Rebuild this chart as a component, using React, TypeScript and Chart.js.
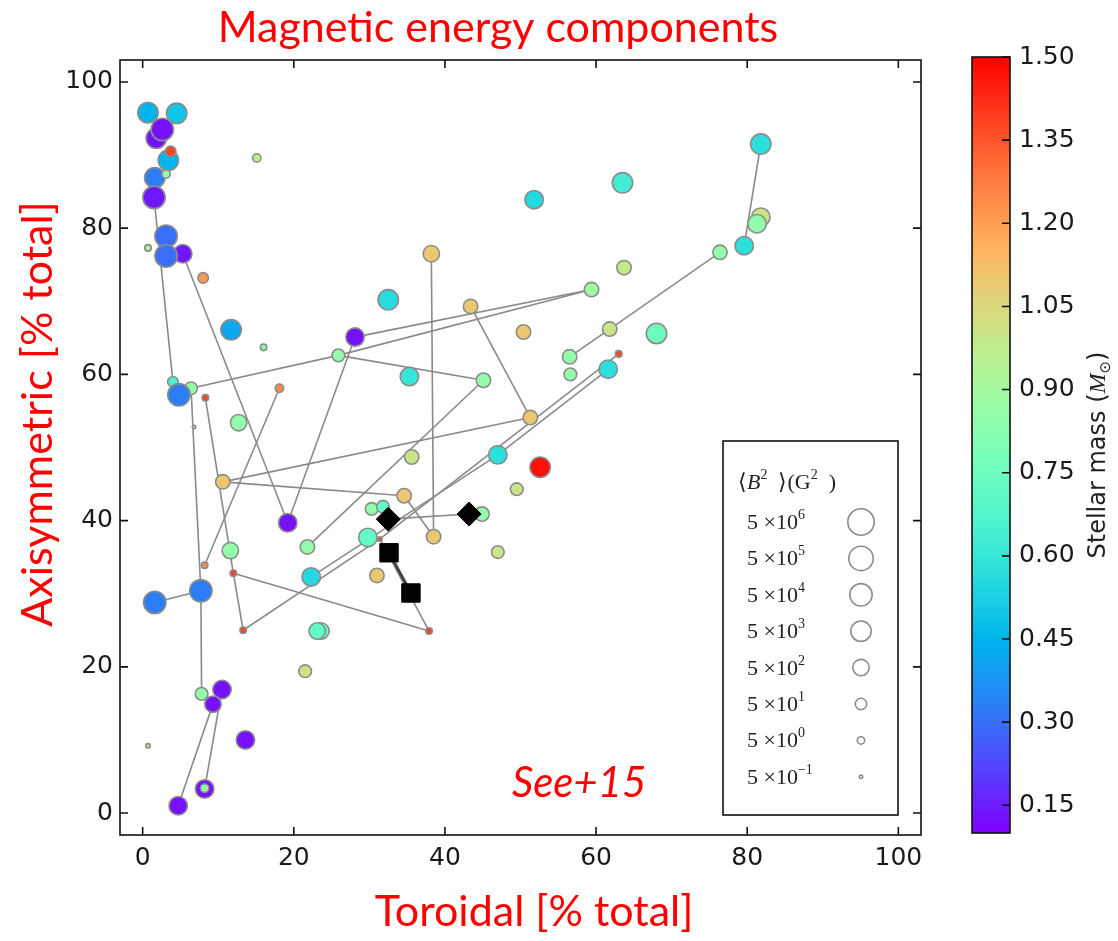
import { useEffect, useRef } from "react";
import { Chart, registerables } from "chart.js";

Chart.register(...registerables);

// Stellar sample: toroidal and axisymmetric shares of magnetic energy (% of total)
const toroidal = [
  0.7, 4.5, 1.8, 2.6, 3.4, 3.7, 1.6, 3.1, 1.5, 15.1, 3.1, 0.7, 5.3, 3.1, 8.0, 32.5,
  11.7, 16.0, 28.1, 25.9, 4.0, 6.4, 4.8, 8.3, 18.1, 12.7, 6.8, 10.6, 19.2, 11.6, 21.8,
  8.2, 12.0, 22.3, 31.0, 1.6, 7.7, 13.3, 23.6, 23.1, 21.5, 7.8, 10.5, 9.3, 13.6, 0.7,
  8.2, 8.2, 4.7, 51.8, 63.5, 38.2, 43.4, 59.4, 63.7, 50.4, 61.8, 56.5, 56.6, 61.6, 63.0,
  35.3, 45.1, 51.3, 47.0, 52.6, 49.5, 35.6, 34.6, 30.3, 31.8, 44.9, 38.5, 31.4, 29.8,
  47.0, 37.9, 81.8, 81.8, 81.3, 79.6, 76.4, 68.0,
];
const axisymmetric = [
  95.8, 95.7, 92.3, 93.5, 89.3, 90.5, 86.9, 87.4, 84.2, 89.6, 78.9, 77.3, 76.5, 76.2, 73.2, 70.2,
  66.1, 63.7, 65.1, 62.6, 59.0, 58.1, 57.2, 56.8, 58.1, 53.4, 52.8, 45.3, 39.7, 35.9, 36.4,
  33.9, 32.8, 32.3, 32.5, 28.8, 30.4, 25.0, 24.9, 24.9, 19.4, 16.3, 16.9, 14.9, 10.0, 9.2,
  3.3, 3.4, 1.0, 83.9, 86.2, 76.5, 69.3, 71.6, 74.6, 65.8, 66.2, 62.4, 60.0, 60.7, 62.8,
  59.7, 59.2, 54.1, 49.0, 47.3, 44.3, 48.7, 43.4, 41.6, 41.9, 40.9, 37.8, 37.5, 37.7,
  35.7, 24.9, 91.5, 81.5, 80.6, 77.6, 76.7, 65.6,
];
// Stellar mass in solar masses
const stellarMass = [
  0.45, 0.5, 0.13, 0.13, 0.45, 1.38, 0.33, 0.85, 0.14, 0.98, 0.3, 0.95, 0.14, 0.3, 1.22, 0.56,
  0.42, 0.82, 0.13, 0.85, 0.65, 0.85, 0.33, 1.38, 1.25, 0.85, 1.0, 1.1, 0.13, 0.85, 0.85,
  1.25, 1.38, 0.55, 1.1, 0.33, 0.33, 1.38, 0.72, 0.72, 1.02, 0.85, 0.13, 0.13, 0.13, 0.95,
  0.13, 0.85, 0.13, 0.55, 0.63, 1.1, 1.1, 0.88, 0.98, 1.1, 1.0, 0.85, 0.85, 0.57, 1.38,
  0.6, 0.85, 1.1, 0.57, 1.47, 1.0, 1.0, 1.1, 0.85, 0.72, 0.85, 1.1, 1.38, 0.72,
  1.0, 1.38, 0.57, 1.0, 0.85, 0.57, 0.85, 0.75,
];
// Mean squared field <B^2> in G^2
const meanB2 = [
  5e3, 5e3, 5e3, 5e4, 5e3, 30, 5e3, 9, 5e4, 9, 5e4, 3, 1600, 5e4, 30, 5e3,
  5e3, 3, 1600, 90, 30, 90, 5e4, 3, 9, 500, 0.3, 200, 1600, 500, 200,
  3, 3, 1600, 200, 5e4, 5e4, 3, 500, 500, 90, 90, 1600, 500, 1600, 0.9,
  1600, 9, 1600, 1600, 5e3, 500, 200, 200, 200, 200, 200, 200, 90, 1600, 3,
  1600, 200, 200, 1600, 5e3, 90, 200, 200, 90, 90, 200, 200, 0.9, 1600,
  90, 3, 5e3, 1600, 1600, 1600, 200, 5e3,
];

// Reference stars shown in black
const diamondToroidal = [32.5, 43.2];
const diamondAxisym = [40.2, 40.9];
const squareToroidal = [32.6, 35.5];
const squareAxisym = [35.6, 30.1];

// Epoch-to-epoch links between maps of the same star: [x1, y1, x2, y2]
const trackSegments = [
  [1.5, 84.2, 4.0, 59.0],
  [5.3, 76.5, 19.2, 39.7],
  [19.2, 39.7, 28.1, 65.1],
  [28.1, 65.1, 59.4, 71.6],
  [25.9, 62.6, 59.4, 71.6],
  [6.4, 58.1, 25.9, 62.6],
  [25.9, 62.6, 45.1, 59.2],
  [45.1, 59.2, 21.8, 36.4],
  [6.4, 58.1, 7.7, 30.4],
  [1.6, 28.8, 7.7, 30.4],
  [7.7, 30.4, 7.8, 16.3],
  [9.3, 14.9, 4.7, 1.0],
  [10.5, 16.9, 8.2, 3.3],
  [8.3, 56.8, 12.0, 32.8],
  [12.0, 32.8, 13.3, 25.0],
  [12.0, 32.8, 37.9, 24.9],
  [37.9, 24.9, 31.4, 37.5],
  [13.3, 25.0, 31.4, 37.5],
  [31.4, 37.5, 63.0, 62.8],
  [22.3, 32.3, 47.0, 49.0],
  [47.0, 49.0, 61.6, 60.7],
  [8.2, 33.9, 18.1, 58.1],
  [10.6, 45.3, 51.3, 54.1],
  [10.6, 45.3, 34.6, 43.4],
  [34.6, 43.4, 38.5, 37.8],
  [38.2, 76.5, 38.5, 37.8],
  [43.4, 69.3, 51.3, 54.1],
  [56.5, 62.4, 61.8, 66.2],
  [61.8, 66.2, 76.4, 76.7],
  [79.6, 77.6, 81.8, 91.5],
  [32.5, 40.2, 43.2, 40.9],
];

const axisTicks = [0, 20, 40, 60, 80, 100];
const massTicks = [0.15, 0.3, 0.45, 0.6, 0.75, 0.9, 1.05, 1.2, 1.35, 1.5];
const massMin = 0.1;
const massMax = 1.5;
const legendExponents = [6, 5, 4, 3, 2, 1, 0, -1];

// Marker outer radius (px) against log10(<B^2> / 5)
const sizeExp = [-1, 0, 1, 2, 3, 4, 5, 6];
const sizeRadius = [2.5, 4.5, 6.5, 9, 11, 12, 13, 14];

const clamp01 = (v: number) => Math.max(0, Math.min(1, v));

// matplotlib "rainbow" colormap
function rainbow(t: number): string {
  const r = clamp01(Math.abs(2 * t - 0.5));
  const g = clamp01(Math.sin(Math.PI * t));
  const b = clamp01(Math.cos((Math.PI * t) / 2));
  return `rgb(${Math.round(r * 255)},${Math.round(g * 255)},${Math.round(b * 255)})`;
}
const massColor = (m: number) => rainbow(clamp01((m - massMin) / (massMax - massMin)));

function markerRadius(b2: number): number {
  const e = Math.log10(b2 / 5);
  if (e <= sizeExp[0]) return sizeRadius[0];
  for (let i = 1; i < sizeExp.length; i++) {
    if (e <= sizeExp[i]) {
      const f = (e - sizeExp[i - 1]) / (sizeExp[i] - sizeExp[i - 1]);
      return sizeRadius[i - 1] + f * (sizeRadius[i] - sizeRadius[i - 1]);
    }
  }
  return sizeRadius[sizeRadius.length - 1];
}

const RED = "#ff0000";
const TITLE_FONT = "Lato";
const TICK_FONT = "'DejaVu Sans'";
const SERIF = "'Liberation Serif'";

type Run = { text: string; font: string; dy?: number };

function runsWidth(ctx: CanvasRenderingContext2D, runs: Run[]) {
  let w = 0;
  for (const r of runs) {
    ctx.font = r.font;
    w += ctx.measureText(r.text).width;
  }
  return w;
}

function drawRuns(ctx: CanvasRenderingContext2D, runs: Run[], x: number, y: number) {
  let cx = x;
  for (const r of runs) {
    ctx.font = r.font;
    ctx.fillText(r.text, cx, y + (r.dy || 0));
    cx += ctx.measureText(r.text).width;
  }
}

const decorations = {
  id: "decorations",
  afterDraw(chart: Chart) {
    const { ctx, chartArea: a } = chart;
    const xs = chart.scales.x;
    const ys = chart.scales.y;
    ctx.save();

    // axes frame with inward ticks on all sides
    ctx.strokeStyle = "#111";
    ctx.lineWidth = 1.6;
    ctx.strokeRect(a.left, a.top, a.right - a.left, a.bottom - a.top);
    ctx.beginPath();
    for (const v of axisTicks) {
      const px = xs.getPixelForValue(v);
      ctx.moveTo(px, a.bottom);
      ctx.lineTo(px, a.bottom - 8);
      ctx.moveTo(px, a.top);
      ctx.lineTo(px, a.top + 8);
      const py = ys.getPixelForValue(v);
      ctx.moveTo(a.left, py);
      ctx.lineTo(a.left + 8, py);
      ctx.moveTo(a.right, py);
      ctx.lineTo(a.right - 8, py);
    }
    ctx.stroke();

    // size legend
    const box = { left: 723, top: 441, right: 898, bottom: 815 };
    ctx.fillStyle = "#fff";
    ctx.fillRect(box.left, box.top, box.right - box.left, box.bottom - box.top);
    ctx.strokeStyle = "#111";
    ctx.lineWidth = 1.6;
    ctx.strokeRect(box.left, box.top, box.right - box.left, box.bottom - box.top);
    ctx.fillStyle = "#222";
    ctx.textBaseline = "alphabetic";
    ctx.textAlign = "left";
    const big = `22px ${SERIF}`;
    const bigIt = `italic 22px ${SERIF}`;
    const sup = `14px ${SERIF}`;
    drawRuns(
      ctx,
      [
        { text: "\u27E8", font: big },
        { text: "B", font: bigIt },
        { text: "2", font: sup, dy: -10 },
        { text: "  \u27E9(G", font: big },
        { text: "2", font: sup, dy: -10 },
        { text: "  )", font: big },
      ],
      738,
      489
    );
    legendExponents.forEach((e, i) => {
      const cy = 522 + i * 36.4;
      drawRuns(
        ctx,
        [
          { text: "5 \u00D710", font: big },
          { text: String(e).replace("-", "\u2212"), font: sup, dy: -10 },
        ],
        747,
        cy + 7
      );
      ctx.beginPath();
      ctx.arc(861, cy, markerRadius(5 * Math.pow(10, e)) - 0.8, 0, Math.PI * 2);
      ctx.strokeStyle = "#8c8c8c";
      ctx.lineWidth = 1.6;
      ctx.stroke();
    });

    // colour bar for stellar mass
    const cb = { left: 972, right: 1010, top: 57, bottom: 833 };
    const grad = ctx.createLinearGradient(0, cb.bottom, 0, cb.top);
    for (let i = 0; i <= 40; i++) grad.addColorStop(i / 40, rainbow(i / 40));
    ctx.fillStyle = grad;
    ctx.fillRect(cb.left, cb.top, cb.right - cb.left, cb.bottom - cb.top);
    ctx.strokeStyle = "#111";
    ctx.lineWidth = 1.6;
    ctx.strokeRect(cb.left, cb.top, cb.right - cb.left, cb.bottom - cb.top);
    ctx.fillStyle = "#1a1a1a";
    ctx.font = `25px ${TICK_FONT}`;
    ctx.textBaseline = "middle";
    ctx.beginPath();
    for (const m of massTicks) {
      const py = cb.bottom - ((m - massMin) / (massMax - massMin)) * (cb.bottom - cb.top);
      ctx.moveTo(cb.right, py);
      ctx.lineTo(cb.right - 8, py);
      ctx.fillText(m.toFixed(2), 1019, py);
    }
    ctx.stroke();

    // colour bar label (rotated)
    ctx.save();
    ctx.translate(1105, 455);
    ctx.rotate(-Math.PI / 2);
    ctx.fillStyle = "#222";
    ctx.textBaseline = "alphabetic";
    const cbRuns: Run[] = [
      { text: "Stellar mass (", font: `24px ${TICK_FONT}` },
      { text: "M", font: `italic 24px ${SERIF}` },
      { text: "\u2299", font: `15px ${TICK_FONT}`, dy: 5 },
      { text: ")", font: `24px ${TICK_FONT}` },
    ];
    drawRuns(ctx, cbRuns, -runsWidth(ctx, cbRuns) / 2, 0);
    ctx.restore();

    // titles
    ctx.fillStyle = RED;
    ctx.textAlign = "center";
    ctx.textBaseline = "alphabetic";
    ctx.font = `43px ${TITLE_FONT}`;
    ctx.fillText("Magnetic energy components", 498, 42);
    ctx.fillText("Toroidal [% total]", 534, 926);
    ctx.save();
    ctx.translate(52, 414);
    ctx.rotate(-Math.PI / 2);
    ctx.fillText("Axisymmetric [% total]", 0, 0);
    ctx.restore();
    ctx.textAlign = "left";
    ctx.font = `italic 42px ${TITLE_FONT}`;
    ctx.fillText("See+15", 512, 797);

    ctx.restore();
  },
};

export default function App() {
  const canvasRef = useRef<HTMLCanvasElement>(null);

  useEffect(() => {
    const canvas = canvasRef.current;
    if (!canvas) return;

    const starPoints = toroidal.map((x, i) => ({ x, y: axisymmetric[i] }));
    const tracks = trackSegments.map(([x1, y1, x2, y2]) => ({
      data: [
        { x: x1, y: y1 },
        { x: x2, y: y2 },
      ],
      showLine: true,
      pointRadius: 0,
      borderColor: "#8a8a8a",
      borderWidth: 1.6,
    }));

    const tickFont = { family: "DejaVu Sans", size: 25 };

    const chart = new Chart(canvas, {
      type: "scatter",
      data: {
        datasets: [
          {
            data: diamondToroidal.map((x, i) => ({ x, y: diamondAxisym[i] })),
            pointStyle: "rectRot",
            pointRadius: 12,
            pointBackgroundColor: "#000",
            pointBorderColor: "#000",
            pointBorderWidth: 1,
          },
          {
            data: squareToroidal.map((x, i) => ({ x, y: squareAxisym[i] })),
            pointStyle: "rect",
            pointRadius: 13,
            pointBackgroundColor: "#000",
            pointBorderColor: "#000",
            pointBorderWidth: 1,
          },
          {
            data: squareToroidal.map((x, i) => ({ x, y: squareAxisym[i] })),
            showLine: true,
            pointRadius: 0,
            borderColor: "#444",
            borderWidth: 3,
          },
          {
            data: starPoints,
            pointRadius: (c: any) => markerRadius(meanB2[c.dataIndex]) - 0.8,
            pointBackgroundColor: (c: any) => massColor(stellarMass[c.dataIndex]),
            pointBorderColor: "#8c8c8c",
            pointBorderWidth: 1.6,
          },
          ...tracks,
        ] as any,
      },
      options: {
        responsive: false,
        devicePixelRatio: 1,
        animation: false,
        events: [],
        layout: { padding: { top: 60, right: 197, bottom: 0, left: 0 } },
        plugins: { legend: { display: false }, tooltip: { enabled: false } },
        scales: {
          x: {
            type: "linear",
            min: -3,
            max: 103,
            grid: { display: false, drawTicks: false },
            border: { display: false },
            ticks: { font: tickFont, color: "#1a1a1a", padding: 8 },
            afterBuildTicks: (s: any) => {
              s.ticks = axisTicks.map((v) => ({ value: v }));
            },
            afterFit: (s: any) => {
              s.height = 106;
            },
          },
          y: {
            type: "linear",
            min: -3,
            max: 103,
            grid: { display: false, drawTicks: false },
            border: { display: false },
            ticks: { font: tickFont, color: "#1a1a1a", padding: 7 },
            afterBuildTicks: (s: any) => {
              s.ticks = axisTicks.map((v) => ({ value: v }));
            },
            afterFit: (s: any) => {
              s.width = 120;
            },
          },
        },
      },
      plugins: [decorations],
    });

    return () => chart.destroy();
  }, []);

  return (
    <div style={{ position: "absolute", left: 0, top: 0, width: 1118, height: 941, background: "#fff" }}>
      <canvas ref={canvasRef} width={1118} height={941} style={{ display: "block" }} />
    </div>
  );
}
